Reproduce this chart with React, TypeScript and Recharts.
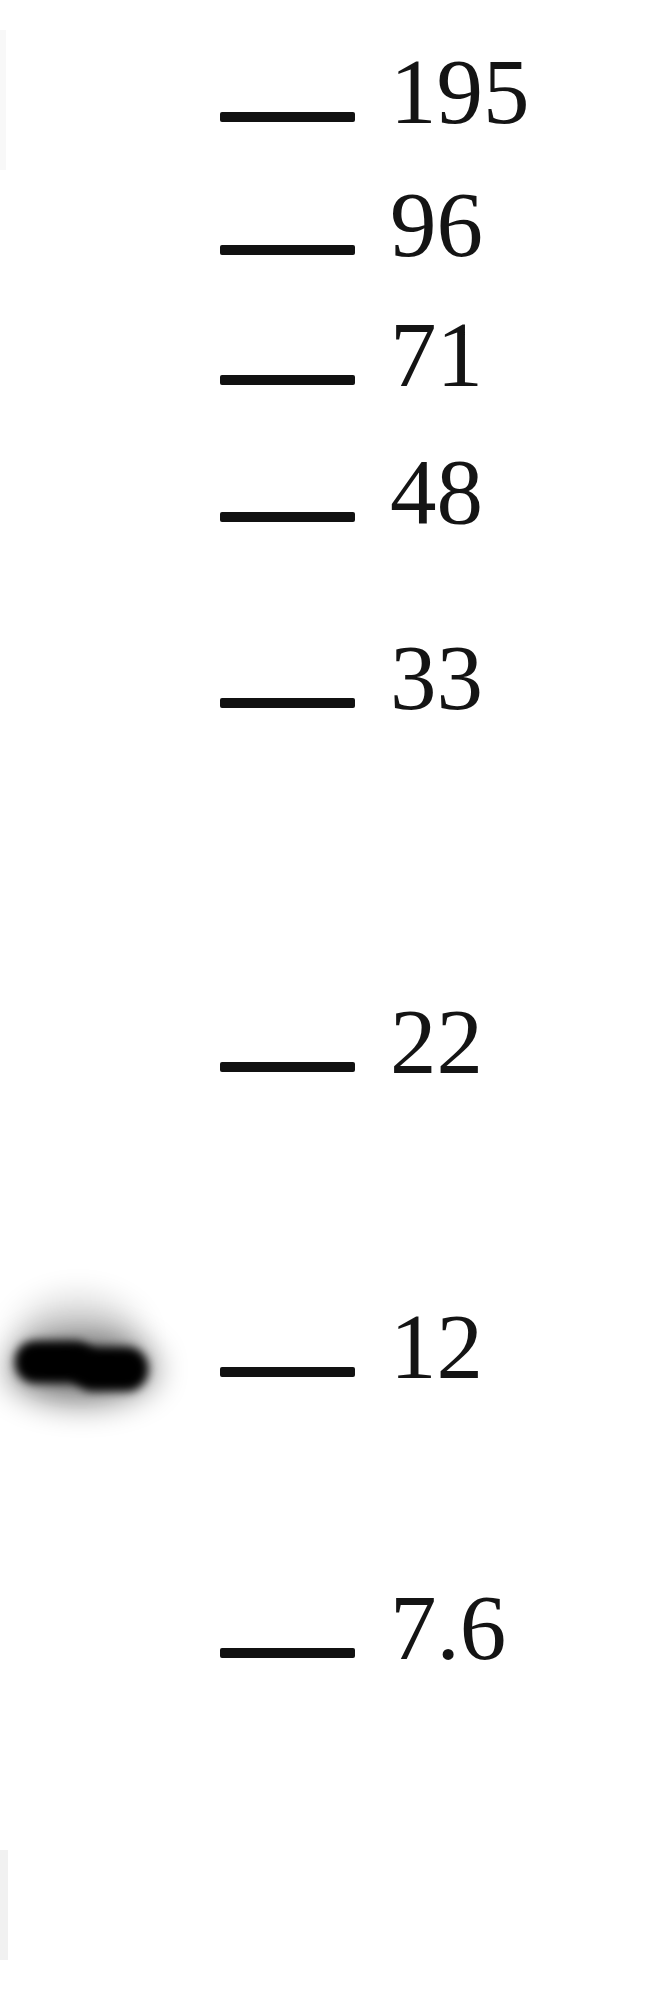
import { ComposedChart, ReferenceArea, Scatter, XAxis, YAxis } from "recharts";

// molecular weight ladder (kDa) and how far each marker ran, px from the top of the blot
const MARKER_LABELS = ["195", "96", "71", "48", "33", "22", "12", "7.6"];
const MARKER_DISTANCE = [117, 250, 380, 517, 703, 1067, 1372, 1653];

// sample lane: a single band just above the 12 kDa marker
const BAND_LABELS = ["sample"];
const BAND_DISTANCE = [1365];

const LANE_SAMPLE = 82;
const LANE_LADDER = 287;

const SERIF = "'Liberation Serif', 'Times New Roman', Times, serif";

const markerData = MARKER_LABELS.map((label, i) => ({
  lane: LANE_LADDER,
  dist: MARKER_DISTANCE[i],
  label,
}));

const bandData = BAND_LABELS.map((label, i) => ({
  lane: LANE_SAMPLE,
  dist: BAND_DISTANCE[i],
  label,
}));

function MarkerTick(props: any) {
  const { cx, cy, payload } = props;
  return (
    <g>
      <rect x={cx - 67} y={cy - 5} width={135} height={10} rx={2} fill="#111" />
      <text
        x={cx + 103}
        y={cy + 6}
        fontFamily={SERIF}
        fontSize={93}
        fill="#141414"
      >
        {payload.label}
      </text>
    </g>
  );
}

function BandShape(props: any) {
  const { cx, cy } = props;
  return (
    <g>
      <defs>
        <filter id="bandHalo" x="-60%" y="-150%" width="220%" height="400%">
          <feGaussianBlur stdDeviation="16" />
        </filter>
        <filter id="bandCore" x="-30%" y="-80%" width="160%" height="260%">
          <feGaussianBlur stdDeviation="5" />
        </filter>
      </defs>
      <ellipse cx={cx - 4} cy={cy - 26} rx={62} ry={42} fill="#000" opacity={0.16} filter="url(#bandHalo)" />
      <ellipse cx={cx} cy={cy + 4} rx={74} ry={34} fill="#000" opacity={0.5} filter="url(#bandHalo)" />
      <rect x={cx - 67} y={cy - 24} width={80} height={42} rx={20} fill="#000" filter="url(#bandCore)" />
      <rect x={cx - 10} y={cy - 18} width={76} height={44} rx={21} fill="#000" filter="url(#bandCore)" />
    </g>
  );
}

export default function App() {
  return (
    <div style={{ width: 650, height: 2010, background: "#fff" }}>
      <style>{"body{margin:0;background:#fff}"}</style>
      <ComposedChart width={650} height={2010} margin={{ top: 0, right: 0, bottom: 0, left: 0 }}>
        <XAxis type="number" dataKey="lane" domain={[0, 650]} hide />
        <YAxis type="number" dataKey="dist" domain={[0, 2010]} reversed hide />
        <ReferenceArea x1={0} x2={6} y1={30} y2={170} fill="#9a9a9a" fillOpacity={0.07} stroke="none" />
        <ReferenceArea x1={0} x2={8} y1={1850} y2={1960} fill="#8a8a8a" fillOpacity={0.12} stroke="none" />
        <Scatter
          data={bandData}
          isAnimationActive={false}
          shape={(p: any) => <BandShape {...p} />}
        />
        <Scatter
          data={markerData}
          isAnimationActive={false}
          shape={(p: any) => <MarkerTick {...p} />}
        />
      </ComposedChart>
    </div>
  );
}
